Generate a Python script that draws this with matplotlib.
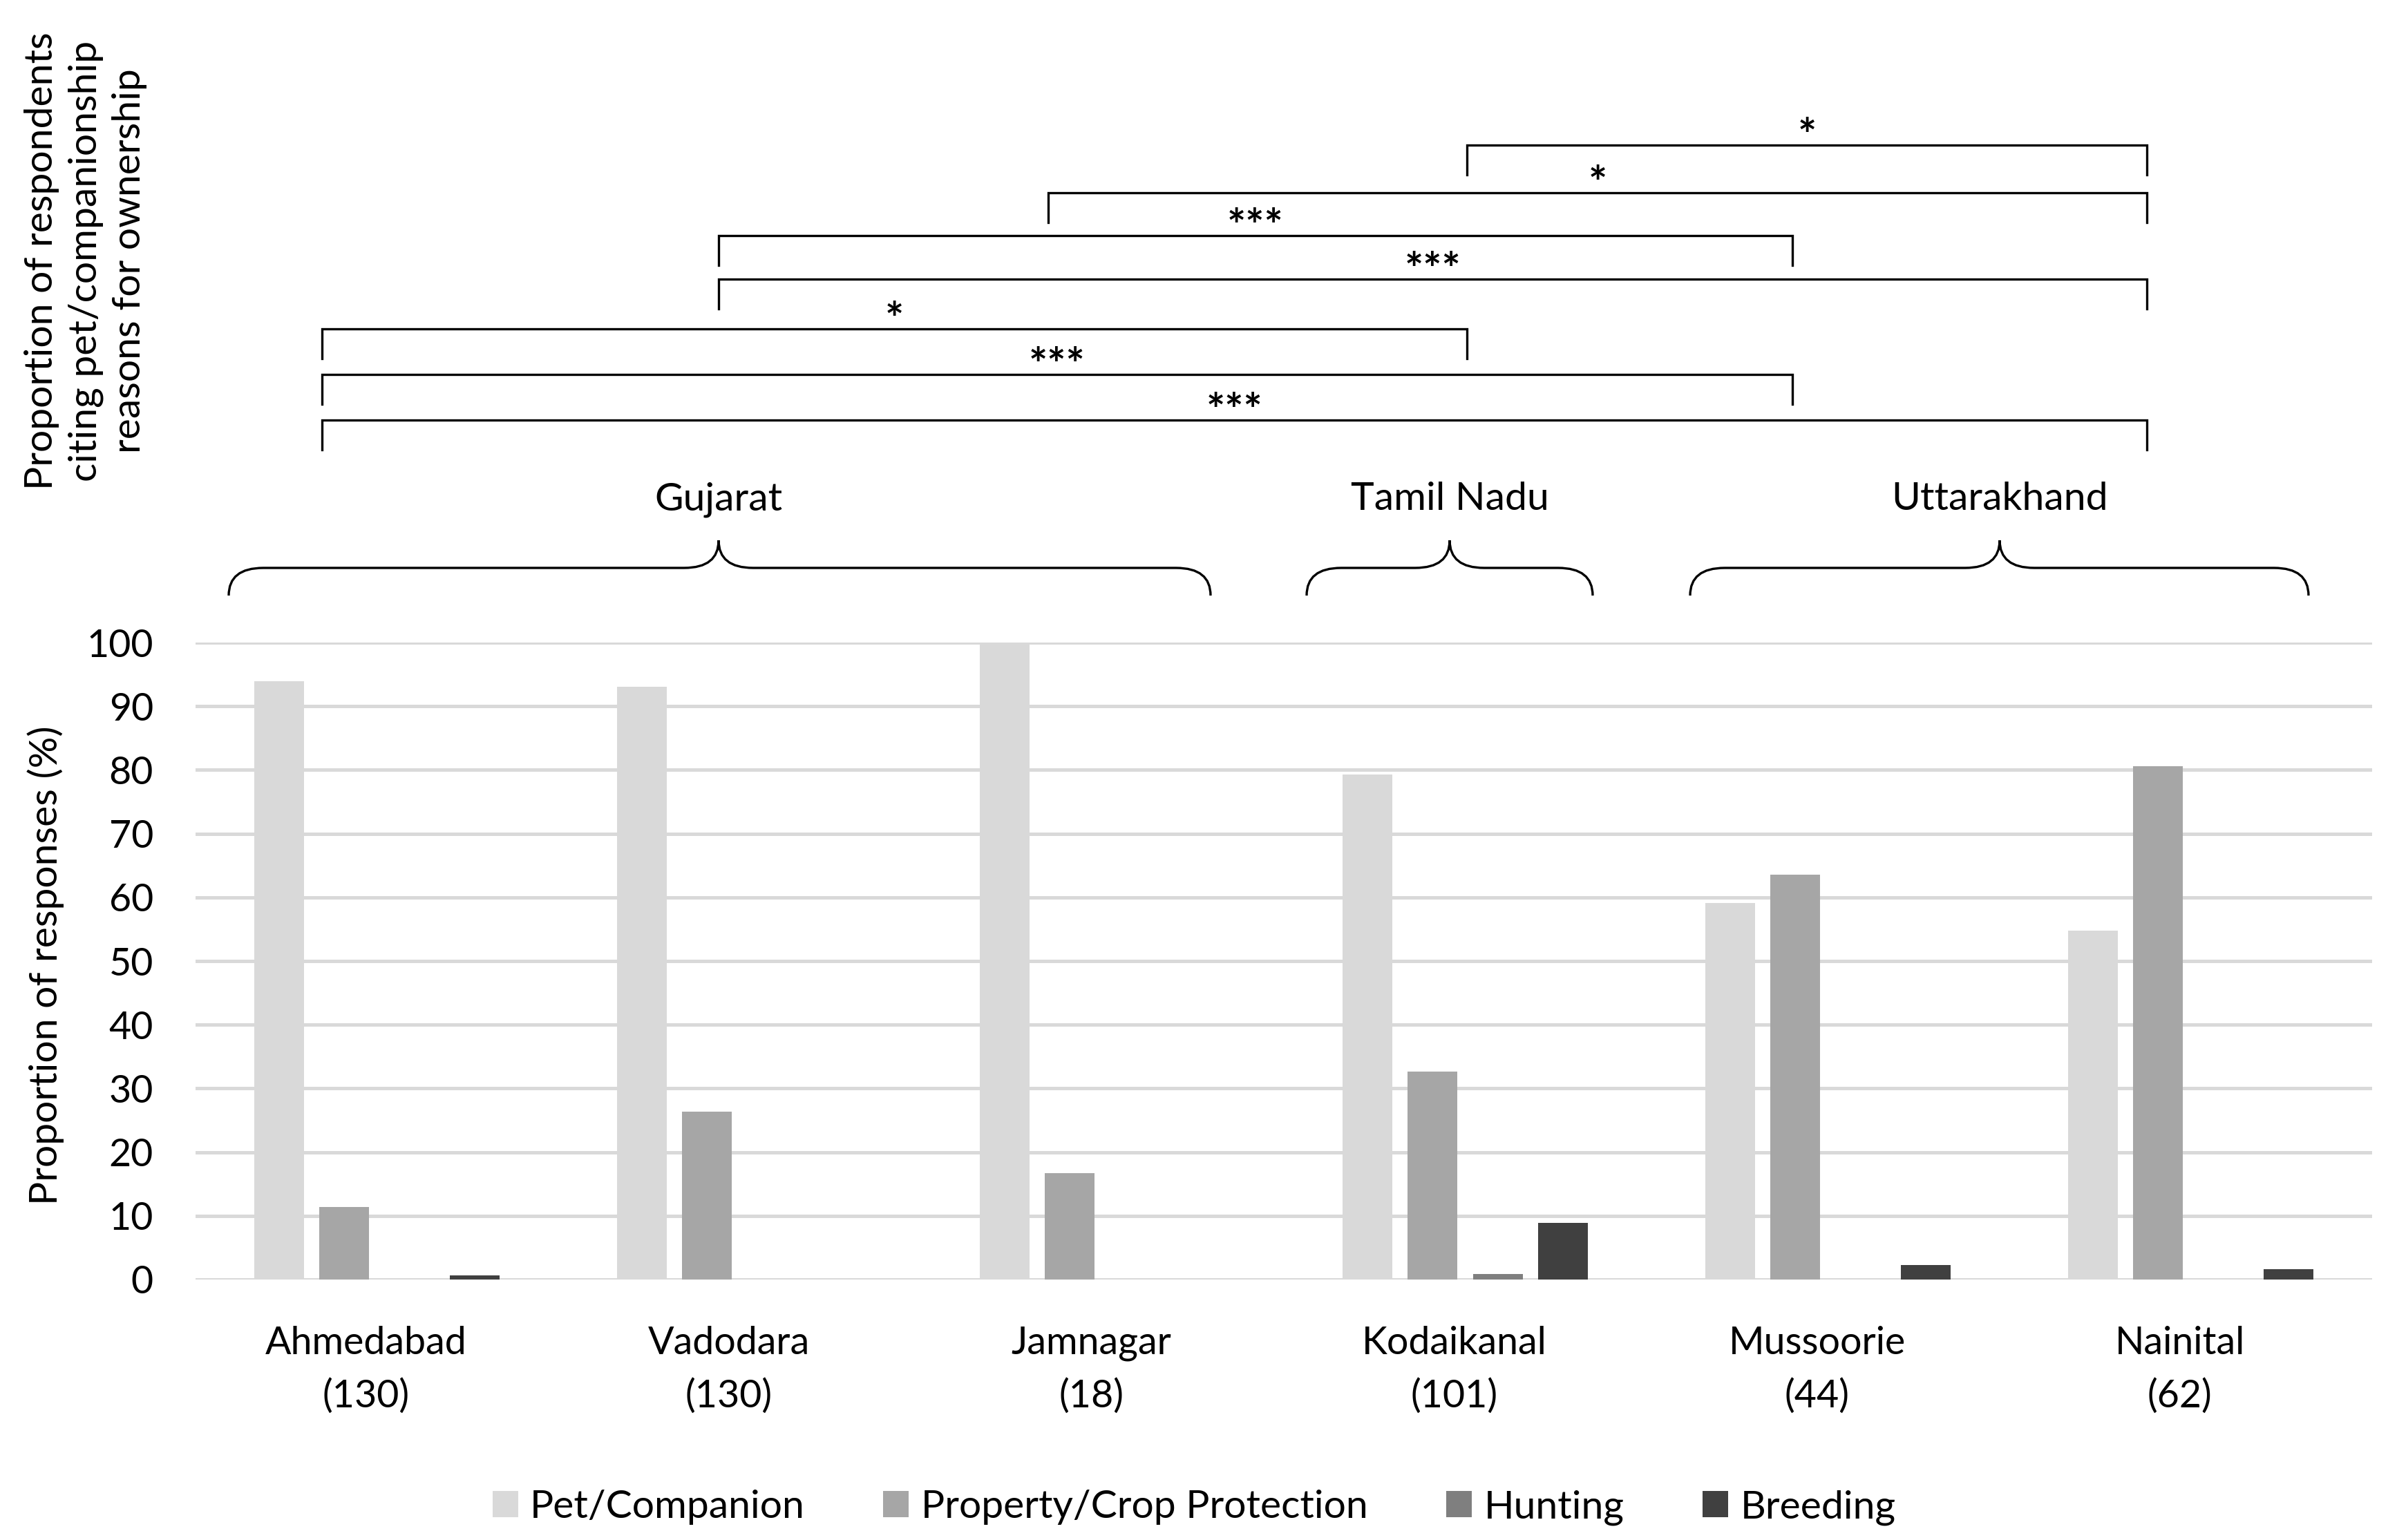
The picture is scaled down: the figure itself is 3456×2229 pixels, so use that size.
import matplotlib
matplotlib.use("Agg")
import matplotlib.pyplot as plt
import numpy as np
from matplotlib.path import Path
from matplotlib.patches import PathPatch

plt.rcParams['font.family'] = ['Lato', 'DejaVu Sans']

# ---- data ----
cities = ["Ahmedabad", "Vadodara", "Jamnagar", "Kodaikanal", "Mussoorie", "Nainital"]
sample_n = ["130", "130", "18", "101", "44", "62"]
series_names = ["Pet/Companion", "Property/Crop Protection", "Hunting", "Breeding"]
pet = [93.9, 93.1, 100.0, 79.3, 59.1, 54.8]
property_crop = [11.4, 26.4, 16.7, 32.7, 63.6, 80.6]
hunting = [0.0, 0.0, 0.0, 0.9, 0.0, 0.0]
breeding = [0.7, 0.0, 0.0, 8.9, 2.3, 1.6]
series_colors = ["#d9d9d9", "#a6a6a6", "#7f7f7f", "#404040"]
y_ticks = [0, 10, 20, 30, 40, 50, 60, 70, 80, 90, 100]

regions = ["Gujarat", "Tamil Nadu", "Uttarakhand"]
# significance brackets: (left px, right px, line y px, label)
brackets = [
    (2123, 3107, 210, "*"),
    (1517, 3107, 279, "*"),
    (1040, 2594, 341, "***"),
    (1040, 3107, 404, "***"),
    (466, 2123, 476, "*"),
    (466, 2594, 542, "***"),
    (466, 3107, 608, "***"),
]
# braces: (left px, tip px, right px)
braces = [(331, 1040, 1752), (1891, 2098, 2305), (2446, 2894, 3341)]

W, H = 3456, 2229
DPI = 200
fig = plt.figure(figsize=(W / DPI, H / DPI), dpi=DPI)

ax = fig.add_axes([283 / W, 1 - 1852 / H, (3433 - 283) / W, (1852 - 930) / H])
x = np.arange(len(cities))
bw = 0.138
step = 0.18
all_series = [pet, property_crop, hunting, breeding]
for i, (vals, name, col) in enumerate(zip(all_series, series_names, series_colors)):
    ax.bar(x + (i - 1.5) * step, vals, width=bw, color=col, label=name, zorder=3)

ax.set_xlim(-0.5, len(cities) - 0.5)
ax.set_ylim(0, 100)
ax.set_yticks(y_ticks)
ax.set_xticks(x - 0.03)
ax.set_xticklabels([f"{c}\n({n})" for c, n in zip(cities, sample_n)], linespacing=1.6)
ax.tick_params(axis='both', length=0, labelsize=20)
ax.tick_params(axis='y', pad=22)
ax.tick_params(axis='x', pad=24)
for s in ax.spines.values():
    s.set_visible(False)
ax.yaxis.grid(True, color="#d9d9d9", lw=1.8, zorder=0)
ax.set_axisbelow(True)

fig.text(66 / W, 1 - 1397 / H, "Proportion of responses (%)", rotation=90,
         ha='center', va='center', fontsize=20.5)

fig.text(124 / W, 1 - 378 / H,
         "Proportion of respondents\nciting pet/companionship\nreasons for ownership",
         rotation=90, ha='center', va='center', multialignment='center',
         fontsize=20.5, linespacing=1.3)

fig.legend(loc='center', bbox_to_anchor=(0.5, 1 - 2182 / H), ncol=4, frameon=False,
           fontsize=20.5, handlelength=0.65, handleheight=0.65, handletextpad=0.3,
           columnspacing=2.0)

# overlay for annotations in pixel coords
ov = fig.add_axes([0, 0, 1, 1], facecolor='none')
ov.set_xlim(0, W)
ov.set_ylim(H, 0)
ov.axis('off')

for (x0, x1, yl, lab) in brackets:
    ov.plot([x0, x0, x1, x1], [yl + 43, yl, yl, yl + 43], color='black', lw=1.2,
            solid_joinstyle='miter')
    ov.text((x0 + x1) / 2, yl + 8, lab, ha='center', va='baseline', fontsize=23,
            fontweight='bold')

yb, yh, yt, r = 862, 822, 782, 50
for (x0, xt, x1), name in zip(braces, regions):
    verts = [(x0, yb), (x0, yh), (x0 + r, yh),
             (xt - r, yh), (xt, yh), (xt, yt),
             (xt, yh), (xt + r, yh),
             (x1 - r, yh), (x1, yh), (x1, yb)]
    codes = [Path.MOVETO, Path.CURVE3, Path.CURVE3,
             Path.LINETO, Path.CURVE3, Path.CURVE3,
             Path.CURVE3, Path.CURVE3,
             Path.LINETO, Path.CURVE3, Path.CURVE3]
    ov.add_patch(PathPatch(Path(verts, codes), fill=False, lw=1.2, edgecolor='black'))
    ov.text(xt, 723, name, ha='center', va='center', fontsize=20.5)

fig.savefig("out.png", dpi=DPI)
